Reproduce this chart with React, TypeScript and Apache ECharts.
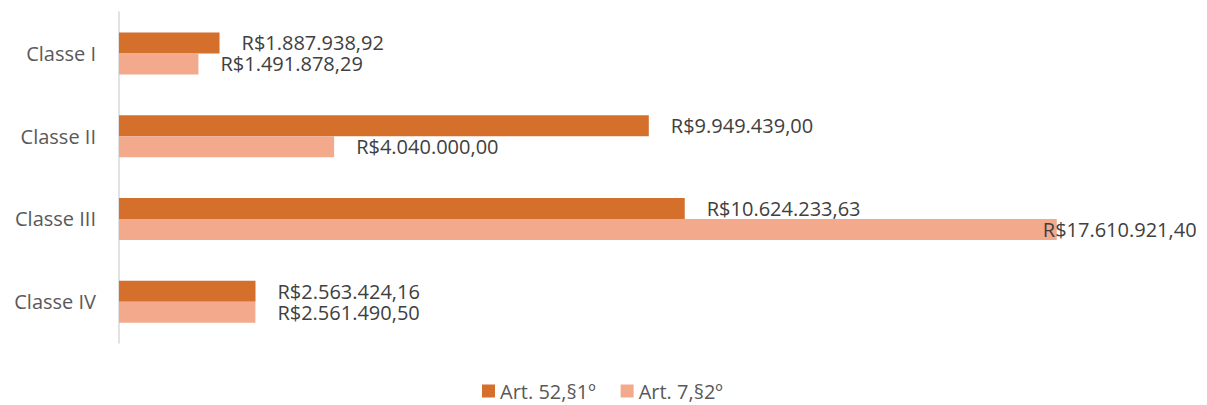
import React, { useEffect, useRef } from "react";
import * as echarts from "echarts";

const categories = ["Classe I", "Classe II", "Classe III", "Classe IV"];
const seriesNames = ["Art. 52,§1º", "Art. 7,§2º"];
const art52 = [1887938.92, 9949439.0, 10624233.63, 2563424.16];
const art7 = [1491878.29, 4040000.0, 17610921.4, 2561490.5];
const colors = ["#D46F2C", "#F2A98C"];

const fmt = (v: number) => {
  const [i, d] = v.toFixed(2).split(".");
  return "R$" + i.replace(/\B(?=(\d{3})+(?!\d))/g, ".") + "," + d;
};

const FONT = "'Open Sans', sans-serif";

export default function App() {
  const ref = useRef<HTMLDivElement>(null);
  useEffect(() => {
    const chart = echarts.init(ref.current!, null, { renderer: "svg" });
    const label = {
      show: true,
      position: "right",
      distance: 22,
      color: "#404040",
      fontSize: 20,
      lineHeight: 20,
      fontFamily: FONT,
      formatter: (p: any) => fmt(p.value),
    };
    chart.setOption({
      animation: false,
      color: colors,
      grid: { left: 111, top: 4, width: 1065, height: 331 },
      legend: {
        top: 368,
        left: 469,
        itemWidth: 13,
        itemHeight: 13,
        itemGap: 25,
        icon: "rect",
        textStyle: { color: "#595959", fontSize: 20, fontFamily: FONT },
        data: seriesNames,
      },
      xAxis: {
        type: "value",
        min: 0,
        max: 20000000,
        show: false,
      },
      yAxis: {
        type: "category",
        data: categories,
        inverse: true,
        axisLine: { show: true, lineStyle: { color: "#D9D9D9", width: 1.5 } },
        axisTick: { show: false },
        axisLabel: { color: "#595959", fontSize: 20, fontFamily: FONT, margin: 23 },
      },
      series: [
        {
          name: seriesNames[0],
          type: "bar",
          data: art52,
          barWidth: 21,
          barGap: "0%",
          label,
        },
        {
          name: seriesNames[1],
          type: "bar",
          data: art7.map((v, i) =>
            i === 2 ? { value: v, label: { offset: [-36, 0] } } : v
          ),
          barWidth: 21,
          barGap: "0%",
          label,
        },
      ],
    });
    return () => chart.dispose();
  }, []);
  return <div ref={ref} style={{ width: 1191, height: 397 }} />;
}
